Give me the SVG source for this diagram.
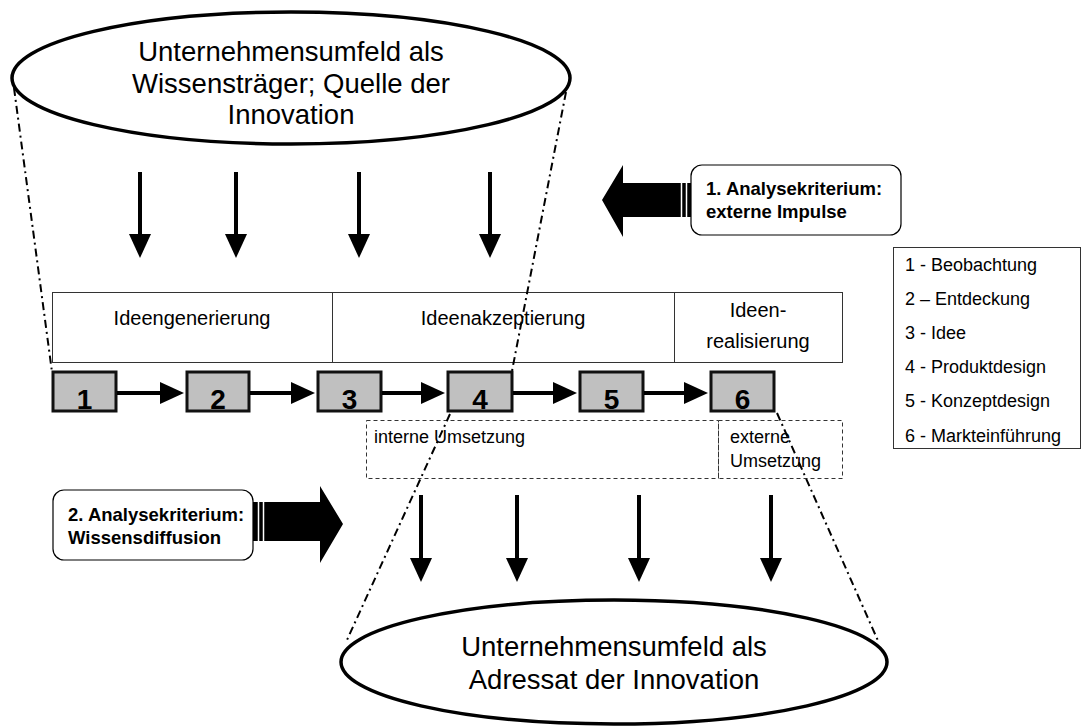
<svg xmlns="http://www.w3.org/2000/svg" width="1082" height="728" viewBox="0 0 1082 728">
<style>
text{font-family:"Liberation Sans",Arial,sans-serif;fill:#000}
.ell{fill:#fff;stroke:#000;stroke-width:3.5}
.big{font-size:27.5px;text-anchor:middle}
.phase{fill:#fff;stroke:#333;stroke-width:1}
.pt{font-size:20px;text-anchor:middle}
.num{fill:#c0c0c0;stroke:#111;stroke-width:3}
.nt{font-size:28px;font-weight:bold;text-anchor:middle}
.dash{fill:none;stroke:#333;stroke-width:1;stroke-dasharray:4 3}
.st{font-size:18px}
.crit{fill:#fff;stroke:#000;stroke-width:1.2}
.ct{font-size:18.5px;font-weight:bold}
.lg{font-size:18px}
.arr{stroke:#000;stroke-width:4;fill:none;marker-end:url(#ah)}
.dd{stroke:#000;stroke-width:2;fill:none;stroke-dasharray:8 4 2 4}
</style>
<defs>
<marker id="ah" viewBox="0 0 24 22" refX="16" refY="11" markerWidth="24" markerHeight="22" markerUnits="userSpaceOnUse" orient="auto">
<path d="M0,0 L24,11 L0,22 z" fill="#000"/>
</marker>
</defs>

<g id="ellipse-top">
<ellipse class="ell" cx="291" cy="78" rx="279" ry="66"/>
<text class="big" x="291" y="61">Unternehmensumfeld als</text>
<text class="big" x="291" y="93">Wissensträger; Quelle der</text>
<text class="big" x="291" y="124">Innovation</text>
</g>

<g id="ellipse-bottom">
<ellipse class="ell" cx="614" cy="662" rx="273" ry="62"/>
<text class="big" x="614" y="656">Unternehmensumfeld als</text>
<text class="big" x="614" y="689">Adressat der Innovation</text>
</g>

<g id="phase-generierung">
<rect class="phase" x="52.5" y="292.5" width="280" height="70"/>
<text class="pt" x="192" y="325">Ideengenerierung</text>
</g>
<g id="phase-akzeptierung">
<rect class="phase" x="332.5" y="292.5" width="342" height="70"/>
<text class="pt" x="503" y="325">Ideenakzeptierung</text>
</g>
<g id="phase-realisierung">
<rect class="phase" x="674.5" y="292.5" width="168" height="70"/>
<text class="pt" x="758" y="317">Ideen-</text>
<text class="pt" x="758" y="348">realisierung</text>
</g>

<g id="step-1"><rect class="num" x="53" y="372" width="63" height="39"/><text class="nt" x="84.5" y="409">1</text></g>
<g id="step-2"><rect class="num" x="187" y="372" width="62" height="39"/><text class="nt" x="218" y="409">2</text></g>
<g id="step-3"><rect class="num" x="318" y="372" width="63" height="39"/><text class="nt" x="349.5" y="409">3</text></g>
<g id="step-4"><rect class="num" x="448" y="372" width="64" height="39"/><text class="nt" x="480" y="409">4</text></g>
<g id="step-5"><rect class="num" x="580" y="372" width="63" height="39"/><text class="nt" x="611.5" y="409">5</text></g>
<g id="step-6"><rect class="num" x="711" y="372" width="63" height="39"/><text class="nt" x="742.5" y="409">6</text></g>

<g id="umsetzung-intern">
<rect class="dash" x="366.5" y="420.5" width="352" height="58"/>
<text class="st" x="374" y="443">interne Umsetzung</text>
</g>
<g id="umsetzung-extern">
<rect class="dash" x="718.5" y="420.5" width="124" height="58"/>
<text class="st" x="730" y="443">externe</text>
<text class="st" x="730" y="467">Umsetzung</text>
</g>

<g id="kriterium-1">
<polygon points="602,200 623,165 623,183 692,183 692,217 623,217 623,237" fill="#000"/>
<line x1="681.5" y1="183" x2="681.5" y2="217" stroke="#fff" stroke-width="1.5"/>
<line x1="686.5" y1="183" x2="686.5" y2="217" stroke="#fff" stroke-width="1.5"/>
<rect class="crit" x="691" y="165" width="210" height="70" rx="11"/>
<text class="ct" x="706" y="195">1. Analysekriterium:</text>
<text class="ct" x="706" y="218">externe Impulse</text>
</g>

<g id="kriterium-2">
<polygon points="253,502 320,502 320,486 343,524 320,563 320,541 253,541" fill="#000"/>
<line x1="258.5" y1="502" x2="258.5" y2="541" stroke="#fff" stroke-width="1.5"/>
<line x1="263.5" y1="502" x2="263.5" y2="541" stroke="#fff" stroke-width="1.5"/>
<rect class="crit" x="53" y="490" width="200" height="70" rx="11"/>
<text class="ct" x="68" y="521">2. Analysekriterium:</text>
<text class="ct" x="68" y="544">Wissensdiffusion</text>
</g>

<g id="legend">
<rect x="893.5" y="247.5" width="187" height="201" fill="#fff" stroke="#333" stroke-width="1"/>
<text class="lg" x="905" y="271">1 - Beobachtung</text>
<text class="lg" x="905" y="305">2 – Entdeckung</text>
<text class="lg" x="905" y="339">3 - Idee</text>
<text class="lg" x="905" y="373">4 - Produktdesign</text>
<text class="lg" x="905" y="407">5 - Konzeptdesign</text>
<text class="lg" x="905" y="442">6 - Markteinführung</text>
</g>

<g id="connectors">
<line class="arr" x1="140" y1="172" x2="140" y2="250"/>
<line class="arr" x1="236" y1="172" x2="236" y2="250"/>
<line class="arr" x1="359" y1="172" x2="359" y2="250"/>
<line class="arr" x1="490" y1="172" x2="490" y2="250"/>

<line class="arr" x1="117" y1="393" x2="176" y2="393"/>
<line class="arr" x1="250" y1="393" x2="307" y2="393"/>
<line class="arr" x1="382" y1="393" x2="437" y2="393"/>
<line class="arr" x1="513" y1="393" x2="569" y2="393"/>
<line class="arr" x1="644" y1="393" x2="700" y2="393"/>

<line class="arr" x1="421" y1="495" x2="421" y2="574"/>
<line class="arr" x1="517" y1="495" x2="517" y2="574"/>
<line class="arr" x1="639" y1="495" x2="639" y2="574"/>
<line class="arr" x1="771" y1="495" x2="771" y2="574"/>

<line class="dd" x1="14" y1="88" x2="52" y2="372"/>
<line class="dd" x1="566" y1="92" x2="512" y2="371"/>
<line class="dd" x1="450" y1="414" x2="347" y2="640"/>
<line class="dd" x1="777" y1="413" x2="879" y2="643"/>
</g>
</svg>
